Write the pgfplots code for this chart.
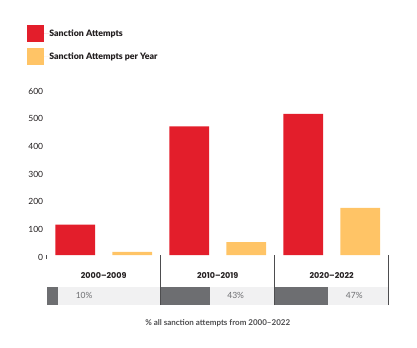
\documentclass[border=0pt]{standalone}
\usepackage{pgfplots}
\pgfplotsset{compat=1.18}
\usepackage{fontspec}
\setmainfont{Lato}
\newfontfamily\pop[Ligatures=TeX]{Poppins}
\newfontfamily\latoblk{Lato Black}
\definecolor{sred}{HTML}{E31E2B}
\definecolor{syel}{HTML}{FFC466}
\definecolor{dgrey}{HTML}{6D6E71}
\definecolor{lgrey}{HTML}{F1F1F2}
\definecolor{divc}{HTML}{4D4D4F}
\definecolor{txt}{HTML}{231F20}
\begin{document}
\begin{tikzpicture}
\useasboundingbox (0,0) rectangle (417bp,-348bp);
% percentage band
\begin{axis}[
  at={(46.7bp,-305bp)}, anchor=south west,
  scale only axis, width=342bp, height=18.3bp,
  xmin=0, xmax=300, ymin=0, ymax=1,
  xbar stacked, bar width=18.3bp,
  axis background/.style={fill=lgrey},
  axis line style={draw=none}, xtick=\empty, ytick=\empty,
  clip=false,
  xlabel={\% all sanction attempts from 2000--2022},
  x label style={at={(axis description cs:0.5,0)}, anchor=center, yshift=-18.3bp,
    font=\fontsize{8bp}{9.6bp}\selectfont\bfseries, text=divc},
]
\addplot[fill=dgrey, draw=none] coordinates {(10,0.5)};
\addplot[fill=none, draw=none] coordinates {(90,0.5)};
\addplot[fill=dgrey, draw=none] coordinates {(43,0.5)};
\addplot[fill=none, draw=none] coordinates {(57,0.5)};
\addplot[fill=dgrey, draw=none] coordinates {(47,0.5)};
\addplot[fill=none, draw=none] coordinates {(53,0.5)};
\tikzset{pct/.style={anchor=center, xshift=26bp, font=\fontsize{8.5bp}{10bp}\selectfont, text=dgrey}}
\node[pct] at (axis cs:10,0.5) {10\%};
\node[pct] at (axis cs:143,0.5) {43\%};
\node[pct] at (axis cs:247,0.5) {47\%};
\end{axis}
% main bars
\begin{axis}[
  at={(46.7bp,-255bp)}, anchor=south west,
  scale only axis, width=342bp, height=166bp,
  xmin=0, xmax=3, ymin=0, ymax=600,
  axis x line*=bottom, axis y line*=left,
  x axis line style={draw=none}, y axis line style={draw=none},
  tick align=outside, major tick length=0pt,
  ytick={0,100,...,600},
  /pgf/number format/assume math mode=true,
  yticklabel style={font=\fontsize{8.5bp}{10bp}\selectfont, text=txt, yshift=-2bp},
  xtick={0.5,1.5,2.5},
  xticklabels={2000--2009,2010--2019,2020--2022},
  xticklabel style={font=\pop\fontsize{8bp}{9.6bp}\selectfont\bfseries, text=txt, anchor=center, yshift=-21bp},
  extra x ticks={1,2,3}, extra x tick labels={,,},
  extra x tick style={major tick length=50bp, tick style={color=divc, line width=1bp}},
  minor xtick={0}, minor tick length=4bp, minor tick style={color=divc, line width=0.6bp},
  ybar, bar shift=0pt, bar width=0.35,
  legend style={at={(0,1)}, anchor=north west, xshift=-19.7bp, yshift=64bp,
    draw=none, fill=none, inner sep=0pt, outer sep=0pt, row sep=6.6bp,
    font=\latoblk\fontsize{8.8bp}{9.6bp}\selectfont, text=txt,
    nodes={inner sep=0pt, text depth=0pt}},
  legend cell align=left,
]
\addplot[fill=sred, draw=none, legend image code/.code={\fill[sred] (0,-8.35bp) rectangle (16.7bp,8.35bp); \path (16.7bp,0) -- (22.3bp,0);}]
  coordinates {(0.25,110) (1.25,465) (2.25,510)};
\addlegendentry{Sanction Attempts}
\addplot[fill=syel, draw=none, legend image code/.code={\fill[syel] (0,-8.35bp) rectangle (16.7bp,8.35bp); \path (16.7bp,0) -- (22.3bp,0);}]
  coordinates {(0.75,11) (1.75,46.5) (2.75,170)};
\addlegendentry{Sanction Attempts per Year}
\end{axis}
\end{tikzpicture}
\end{document}
